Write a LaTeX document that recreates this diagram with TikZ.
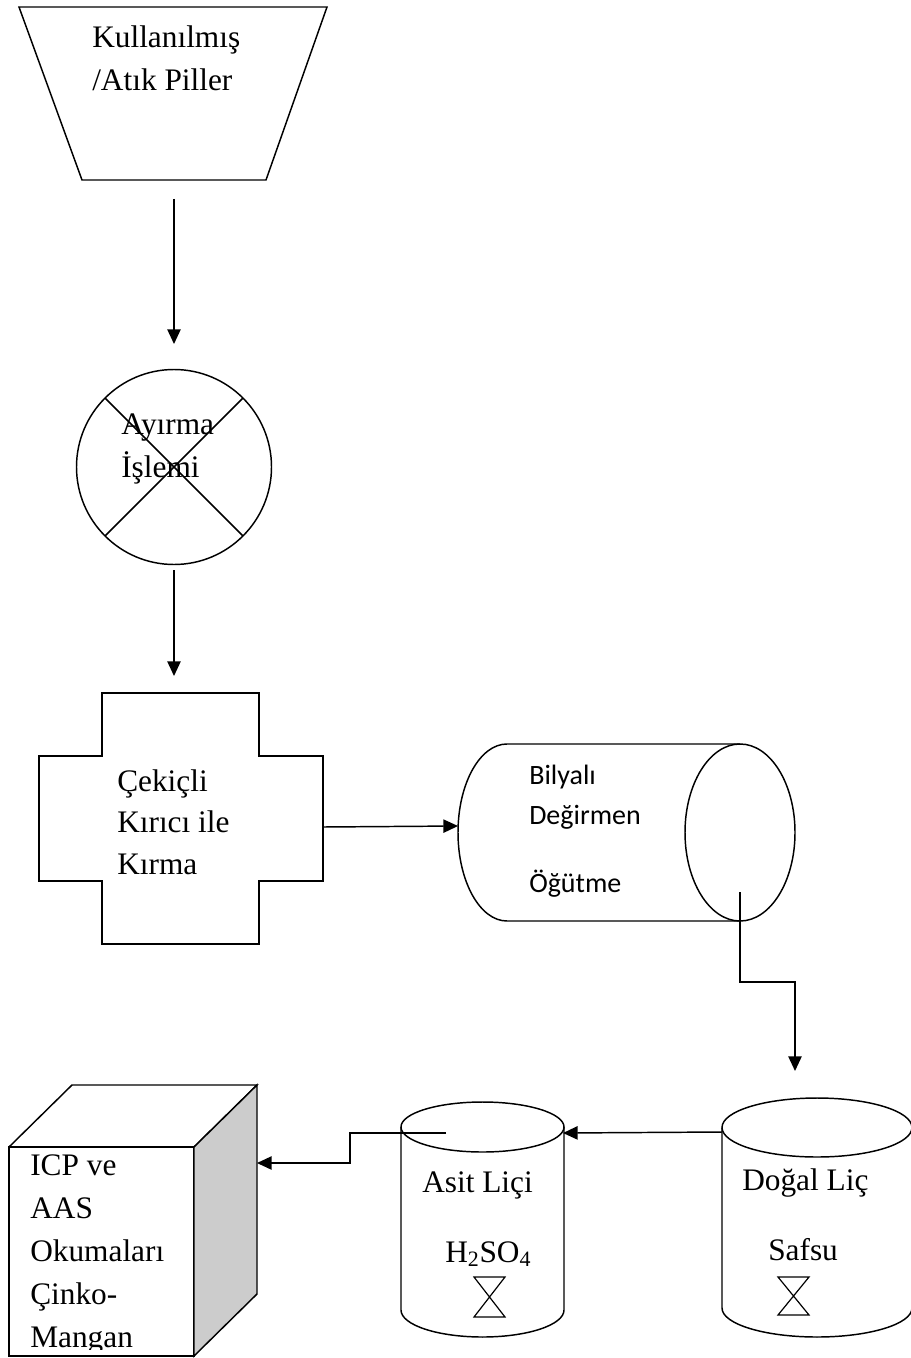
\documentclass[tikz,border=0pt]{standalone}
\usepackage{fontspec}
\setmainfont{Liberation Serif}
\newfontfamily\calibri{Carlito}
\usetikzlibrary{arrows.meta,calc}
\tikzset{
  line/.style={line width=1.1pt, line join=miter},
  arr/.style={line, -{Triangle[length=11pt,width=10pt]}},
  txt/.style={inner sep=0pt, anchor=base west, font=\fontsize{23.5}{32.25}\selectfont, align=left},
  crosstxt/.style={txt, font=\fontsize{23.5}{31}\selectfont},
  ctxt/.style={inner sep=0pt, anchor=base west, font=\calibri\fontsize{21}{30}\selectfont, align=left},
  glass/.style={line width=0.9pt, line join=miter},
}
\begin{document}
\begin{tikzpicture}[x=0.75pt,y=-0.75pt]
\useasboundingbox (0,0) rectangle (910,1358);

% hopper
\draw[line] (19,7) -- (327,7) -- (266,180) -- (82,180) -- cycle;
\node[txt] (hopper) at (92,91) {Kullanılmış\\/Atık Piller};
\coordinate (hopperOut) at (174,199);

% separation
\draw[line] (174,467) circle[radius=97.5];
\draw[line] (105,398) -- (243,536);
\draw[line] (243,398) -- (105,536);
\node[txt] (sep) at (121,477) {Ayırma\\İşlemi};
\coordinate (sepIn) at (174,344);
\coordinate (sepOut) at (174,570);

% crusher
\draw[line] (102,693) -- (259,693) -- (259,756) -- (323,756) -- (323,881) -- (259,881)
  -- (259,944) -- (102,944) -- (102,881) -- (39,881) -- (39,756) -- (102,756) -- cycle;
\node[crosstxt] (crush) at (117,874) {Çekiçli\\Kırıcı ile\\Kırma};
\coordinate (crushIn) at (174,676);
\coordinate (crushOut) at (323,827);

% ball mill
\draw[line] (740,744) -- (507,744) arc[start angle=270,end angle=90,x radius=49,y radius=88.5] -- (740,921);
\draw[line] (740,832.5) ellipse[x radius=55,y radius=88.5];
\node[ctxt] (mill) at (529,892) {Bilyalı\\Değirmen\\[21pt]Öğütme};
\coordinate (millIn) at (458,826);
\coordinate (millOut) at (740,892);

% natural leach
\draw[line] (817,1127.5) ellipse[x radius=95,y radius=29.5];
\draw[line] (722,1127.5) -- (722,1308) arc[start angle=180,end angle=0,x radius=95,y radius=29] -- (912,1127.5);
\node[txt] (dogal) at (742,1190) {Doğal Liç};
\node[txt] (safsu) at (768,1260) {Safsu};
\draw[glass] (778,1277) -- (809,1277) -- (778,1315) -- (809,1315) -- cycle;
\coordinate (dogalIn) at (795,1071);
\coordinate (dogalOut) at (722,1132);

% acid leach
\draw[line] (482.5,1127) ellipse[x radius=81.5,y radius=25];
\draw[line] (401,1127) -- (401,1310) arc[start angle=180,end angle=0,x radius=81.5,y radius=27] -- (564,1127);
\node[txt] (asit) at (422,1192) {Asit Liçi};
\node[txt] (h2so4) at (445,1262) {H\textsubscript{2}SO\textsubscript{4}};
\draw[glass] (474,1277) -- (505,1277) -- (474,1317) -- (505,1317) -- cycle;
\coordinate (asitIn) at (563,1133);
\coordinate (asitOut) at (446,1133);

% analysis cube
\draw[line] (9,1147) rectangle (194,1356);
\draw[line] (9,1147) -- (72,1085) -- (257,1085) -- (194,1147);
\draw[line, fill={rgb,255:red,204;green,204;blue,204}] (194,1147) -- (257,1085) -- (257,1294) -- (194,1356) -- cycle;
\begin{scope}
  \clip (9,1140) rectangle (194,1349);
  \node[txt] (icp) at (30,1347) {ICP ve\\AAS\\Okumaları\\Çinko-\\Mangan};
\end{scope}
\coordinate (cubeIn) at (257,1163);

% connectors
\draw[arr] (hopperOut) -- (sepIn);
\draw[arr] (sepOut) -- (crushIn);
\draw[arr] (crushOut) -- (millIn);
\draw[arr] (millOut) -- ++(0,90) -| (dogalIn);
\draw[arr] (dogalOut) -- (asitIn);
\draw[arr] (asitOut) -| ($(cubeIn)+(93,0)$) -- (cubeIn);
\end{tikzpicture}
\end{document}
